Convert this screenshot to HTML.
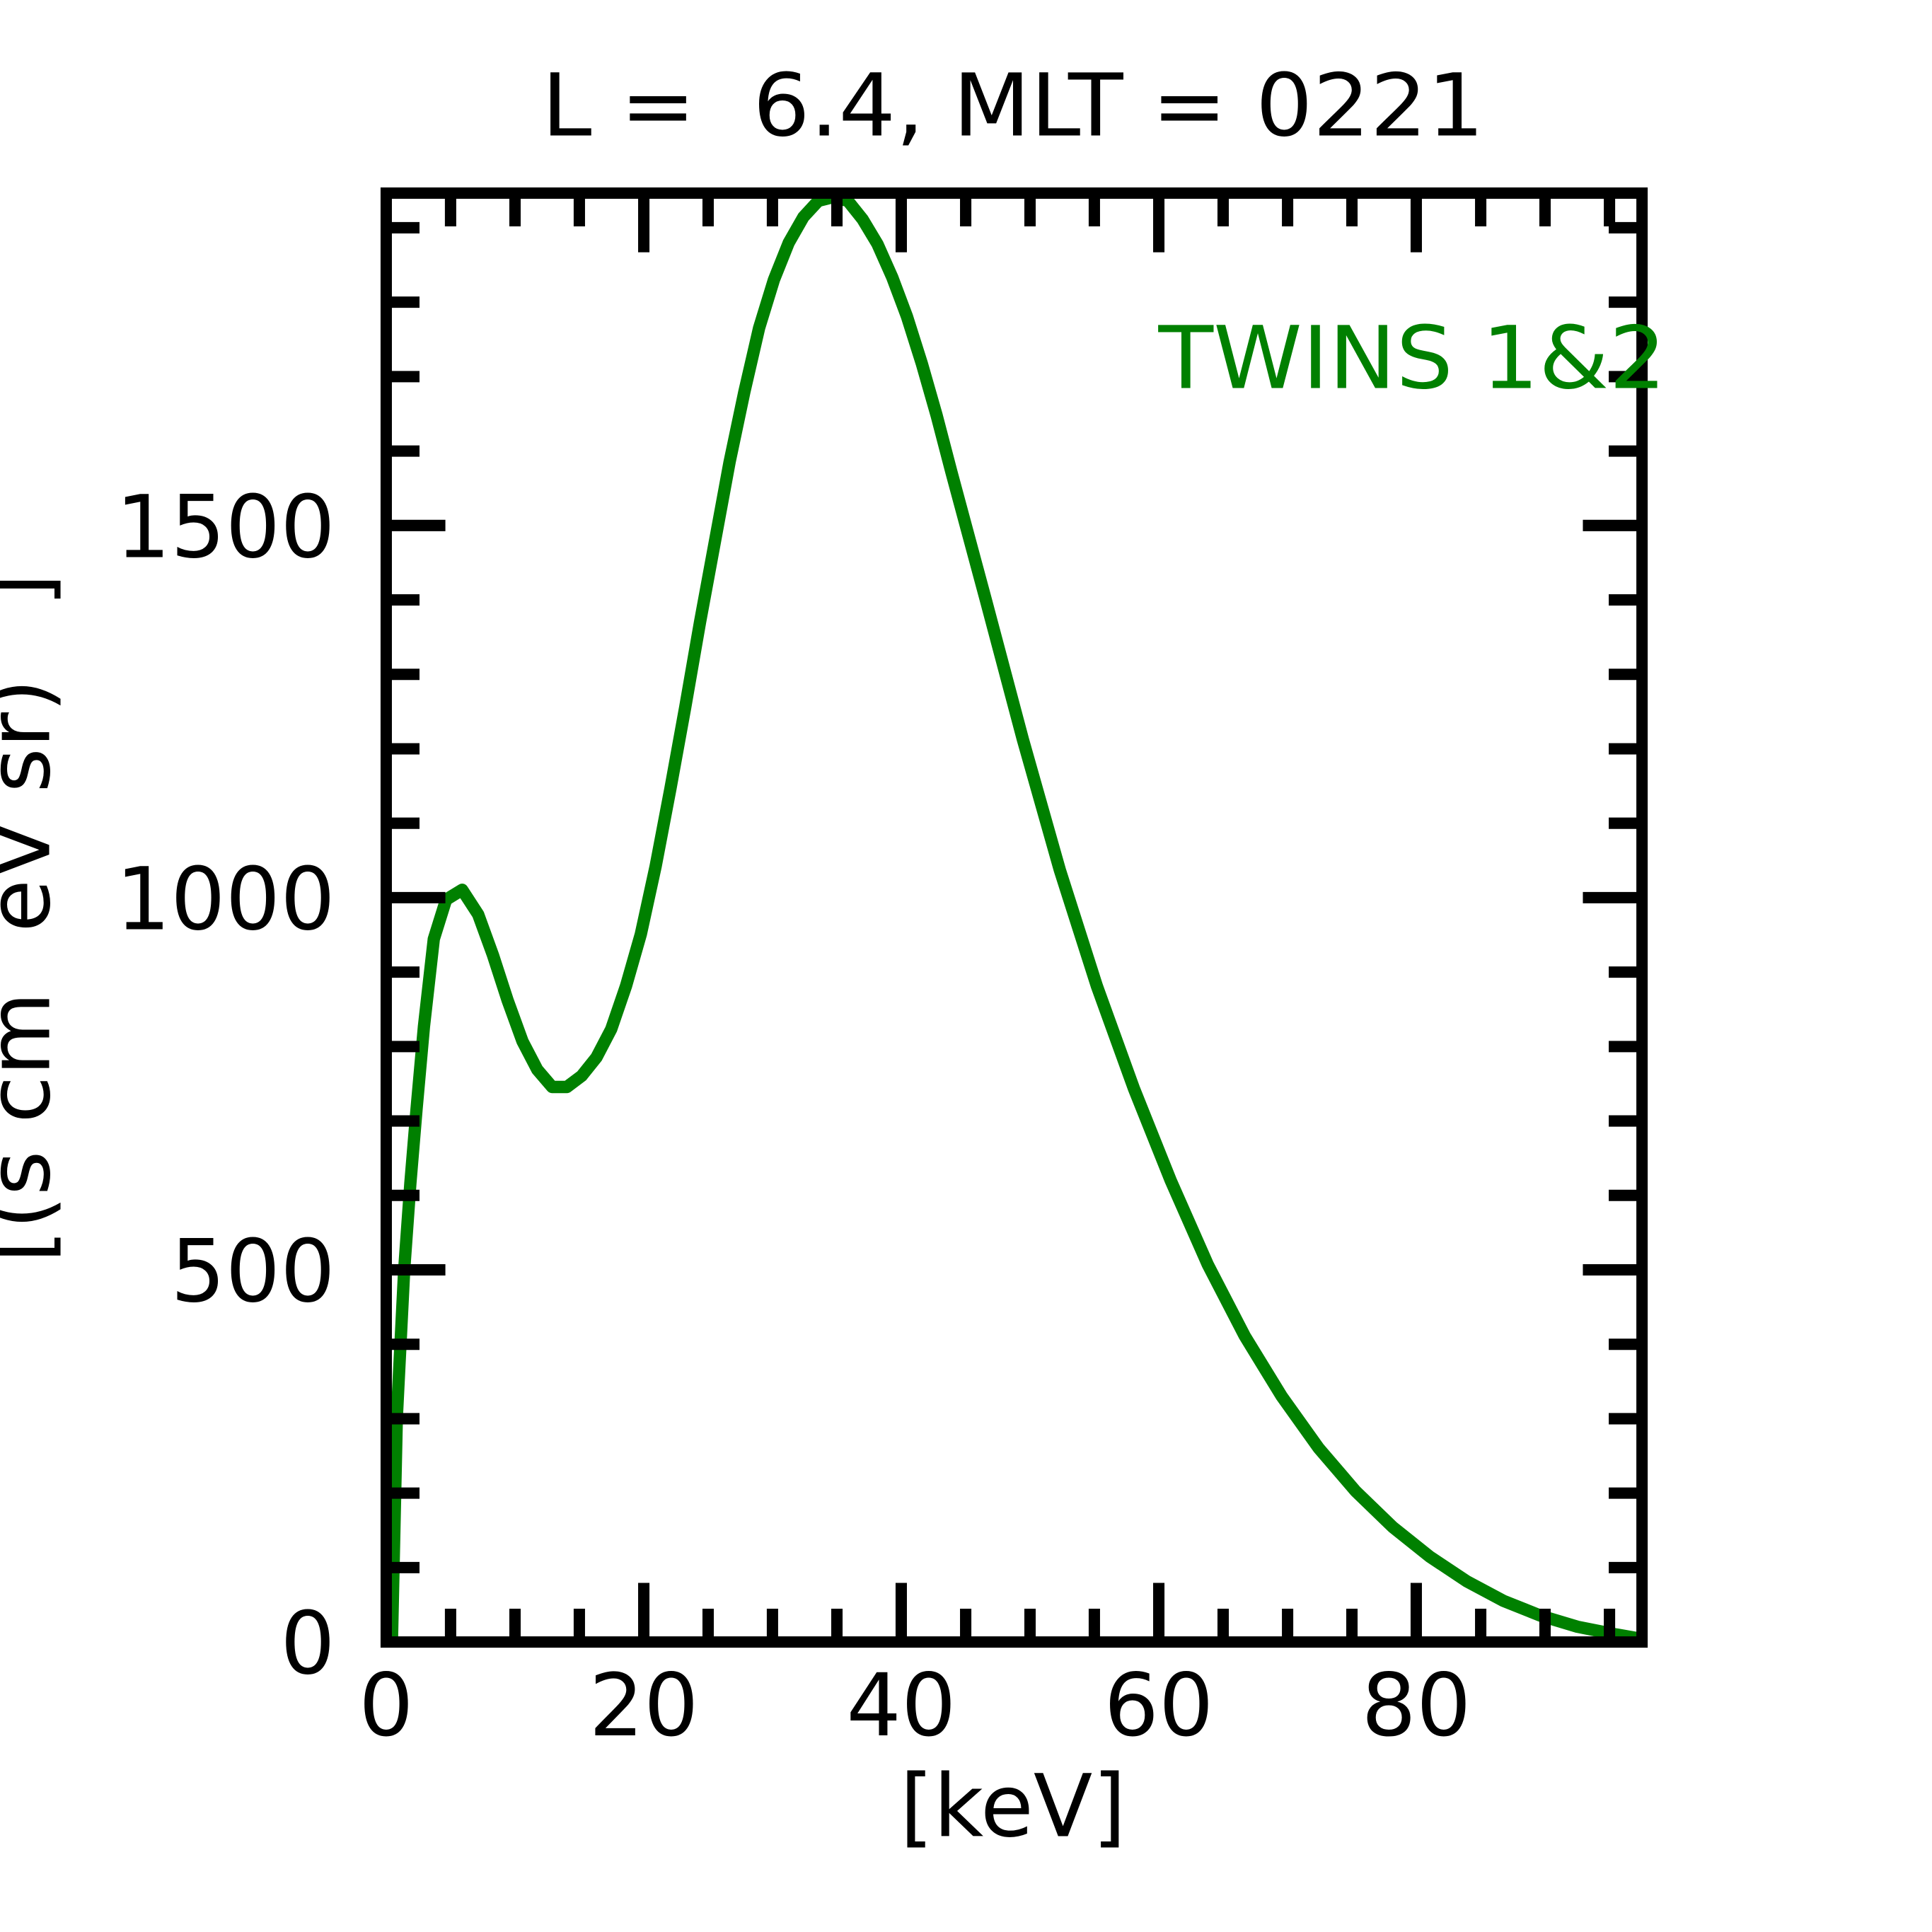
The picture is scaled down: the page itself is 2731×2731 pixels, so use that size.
<!DOCTYPE html>
<html><head><meta charset="utf-8"><style>
html,body{margin:0;padding:0;background:#fff;}
svg{display:block;}
text{font-family:"DejaVu Sans","Liberation Sans",sans-serif;}
</style></head><body>
<svg width="2731" height="2731" viewBox="0 0 1567.7 1567.7" xmlns="http://www.w3.org/2000/svg">
<rect width="1567.7" height="1567.7" fill="#fff"/>
<polyline fill="none" stroke="#008000" stroke-width="10" stroke-linejoin="round" points="318,1333 322,1150 328,1030 333,960 338,900 344,833 352,762 362,730 375,722 388,742 400,775 412,812 424,845 436,868 448,882 460,882 472,873 484,858 496,835 508,800 520,758 532,703 544,640 556,574 568,505 580,440 592,375 604,318 616,266 628,227 640,197 652,176 664,163 676,160 688,163 700,178 712,198 724,225 736,257 748,295 760,337 772,383 800,487 830,600 860,706 890,800 920,883 950,958 980,1026 1010,1084 1040,1133 1070,1175 1100,1210 1130,1239 1160,1263 1190,1283 1220,1299 1250,1311 1280,1320 1310,1326 1333,1330"/>
<g stroke="#000" stroke-width="9.2" fill="none">
<path d="M365.6 1332.4v-27M417.9 1332.4v-27M470.1 1332.4v-27M574.6 1332.4v-27M626.8 1332.4v-27M679.1 1332.4v-27M783.6 1332.4v-27M835.8 1332.4v-27M888 1332.4v-27M992.5 1332.4v-27M1044.8 1332.4v-27M1097 1332.4v-27M1201.5 1332.4v-27M1253.7 1332.4v-27M1306 1332.4v-27
M365.6 156.7v27M417.9 156.7v27M470.1 156.7v27M574.6 156.7v27M626.8 156.7v27M679.1 156.7v27M783.6 156.7v27M835.8 156.7v27M888 156.7v27M992.5 156.7v27M1044.8 156.7v27M1097 156.7v27M1201.5 156.7v27M1253.7 156.7v27M1306 156.7v27"/>
<path d="M522.4 1332.4v-48M731.3 1332.4v-48M940.3 1332.4v-48M1149.2 1332.4v-48M522.4 156.7v48M731.3 156.7v48M940.3 156.7v48M1149.2 156.7v48"/>
<path d="M313.4 1272h27M313.4 1211.6h27M313.4 1151.2h27M313.4 1090.8h27M313.4 970h27M313.4 909.6h27M313.4 849.2h27M313.4 788.8h27M313.4 668h27M313.4 607.6h27M313.4 547.2h27M313.4 486.8h27M313.4 366h27M313.4 305.6h27M313.4 245.2h27M313.4 184.8h27
M1332.4 1272h-27M1332.4 1211.6h-27M1332.4 1151.2h-27M1332.4 1090.8h-27M1332.4 970h-27M1332.4 909.6h-27M1332.4 849.2h-27M1332.4 788.8h-27M1332.4 668h-27M1332.4 607.6h-27M1332.4 547.2h-27M1332.4 486.8h-27M1332.4 366h-27M1332.4 305.6h-27M1332.4 245.2h-27M1332.4 184.8h-27"/>
<path d="M313.4 1030.4h48M313.4 728.4h48M313.4 426.4h48M1332.4 1030.4h-48M1332.4 728.4h-48M1332.4 426.4h-48"/>
<rect x="313.4" y="156.7" width="1019" height="1175.7"/>
</g>
<g font-size="70" fill="#000">
<g text-anchor="end">
<text x="272" y="1358">0</text>
<text x="272" y="1056">500</text>
<text x="272" y="754">1000</text>
<text x="272" y="452">1500</text>
</g>
<g text-anchor="middle">
<text x="313.4" y="1408">0</text>
<text x="522.4" y="1408">20</text>
<text x="731.3" y="1408">40</text>
<text x="940.3" y="1408">60</text>
<text x="1149.2" y="1408">80</text>
<text x="822" y="1490">[keV]</text>
<text x="822" y="110" textLength="765" lengthAdjust="spacingAndGlyphs" xml:space="preserve">L =  6.4, MLT = 0221</text>
</g>
<text x="940" y="315" fill="#008000" textLength="412" lengthAdjust="spacingAndGlyphs">TWINS 1&amp;2</text>
<text transform="translate(40,745) rotate(-90)" text-anchor="middle" xml:space="preserve">[(s cm<tspan dx="26"> eV sr)</tspan><tspan dx="36"> ]</tspan></text>
</g>
</svg>
</body></html>
